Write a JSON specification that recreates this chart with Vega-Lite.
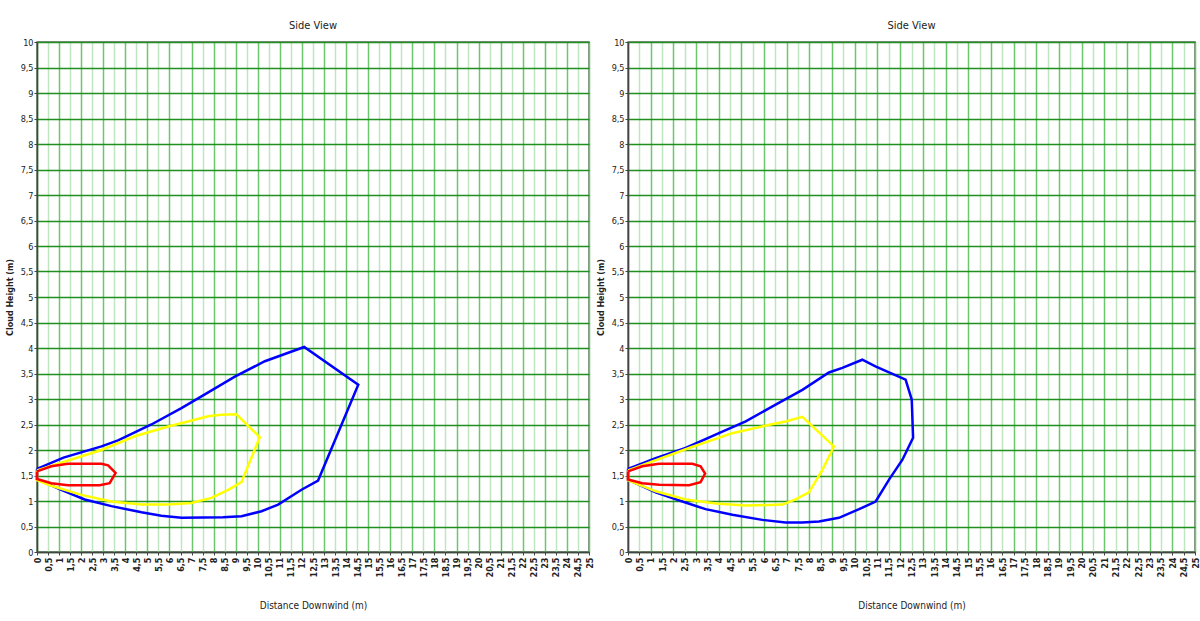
{
  "$schema": "https://vega.github.io/schema/vega-lite/v6.json",
  "padding": {"left": 5, "top": 19, "right": 0, "bottom": 0},
  "background": "white",
  "spacing": 1,
  "datasets": {
    "left": [
      {"series": "Outer", "i": 0, "x": 0, "h": 1.63},
      {"series": "Outer", "i": 1, "x": 1.2, "h": 1.85},
      {"series": "Outer", "i": 2, "x": 2.92, "h": 2.07},
      {"series": "Outer", "i": 3, "x": 3.67, "h": 2.19},
      {"series": "Outer", "i": 4, "x": 5.18, "h": 2.5},
      {"series": "Outer", "i": 5, "x": 6.54, "h": 2.82},
      {"series": "Outer", "i": 6, "x": 7.45, "h": 3.05},
      {"series": "Outer", "i": 7, "x": 8.96, "h": 3.44},
      {"series": "Outer", "i": 8, "x": 10.32, "h": 3.74},
      {"series": "Outer", "i": 9, "x": 12.1, "h": 4.02},
      {"series": "Outer", "i": 10, "x": 14.55, "h": 3.28},
      {"series": "Outer", "i": 11, "x": 12.73, "h": 1.4},
      {"series": "Outer", "i": 12, "x": 11.98, "h": 1.22},
      {"series": "Outer", "i": 13, "x": 10.92, "h": 0.93},
      {"series": "Outer", "i": 14, "x": 10.17, "h": 0.8},
      {"series": "Outer", "i": 15, "x": 9.26, "h": 0.7},
      {"series": "Outer", "i": 16, "x": 8.43, "h": 0.68},
      {"series": "Outer", "i": 17, "x": 6.54, "h": 0.67},
      {"series": "Outer", "i": 18, "x": 5.63, "h": 0.71},
      {"series": "Outer", "i": 19, "x": 4.73, "h": 0.78},
      {"series": "Outer", "i": 20, "x": 3.37, "h": 0.9},
      {"series": "Outer", "i": 21, "x": 2.16, "h": 1.03},
      {"series": "Outer", "i": 22, "x": 1.1, "h": 1.22},
      {"series": "Outer", "i": 23, "x": 0, "h": 1.43},
      {"series": "Outer", "i": 24, "x": 0, "h": 1.63},
      {"series": "Middle", "i": 0, "x": 0, "h": 1.6},
      {"series": "Middle", "i": 1, "x": 2.92, "h": 2.0},
      {"series": "Middle", "i": 2, "x": 4.43, "h": 2.27},
      {"series": "Middle", "i": 3, "x": 5.94, "h": 2.46},
      {"series": "Middle", "i": 4, "x": 6.84, "h": 2.56},
      {"series": "Middle", "i": 5, "x": 7.75, "h": 2.66},
      {"series": "Middle", "i": 6, "x": 8.35, "h": 2.69},
      {"series": "Middle", "i": 7, "x": 9.03, "h": 2.7},
      {"series": "Middle", "i": 8, "x": 10.09, "h": 2.25},
      {"series": "Middle", "i": 9, "x": 9.26, "h": 1.37},
      {"series": "Middle", "i": 10, "x": 8.66, "h": 1.22},
      {"series": "Middle", "i": 11, "x": 7.9, "h": 1.06},
      {"series": "Middle", "i": 12, "x": 6.99, "h": 0.96},
      {"series": "Middle", "i": 13, "x": 5.94, "h": 0.93},
      {"series": "Middle", "i": 14, "x": 4.73, "h": 0.93},
      {"series": "Middle", "i": 15, "x": 3.37, "h": 0.99},
      {"series": "Middle", "i": 16, "x": 2.01, "h": 1.12},
      {"series": "Middle", "i": 17, "x": 0.65, "h": 1.3},
      {"series": "Middle", "i": 18, "x": 0, "h": 1.41},
      {"series": "Middle", "i": 19, "x": 0, "h": 1.6},
      {"series": "Inner", "i": 0, "x": 0, "h": 1.58},
      {"series": "Inner", "i": 1, "x": 0.65, "h": 1.68},
      {"series": "Inner", "i": 2, "x": 1.4, "h": 1.73},
      {"series": "Inner", "i": 3, "x": 2.92, "h": 1.73},
      {"series": "Inner", "i": 4, "x": 3.22, "h": 1.7},
      {"series": "Inner", "i": 5, "x": 3.56, "h": 1.55},
      {"series": "Inner", "i": 6, "x": 3.29, "h": 1.35},
      {"series": "Inner", "i": 7, "x": 2.84, "h": 1.31},
      {"series": "Inner", "i": 8, "x": 1.4, "h": 1.31},
      {"series": "Inner", "i": 9, "x": 0.65, "h": 1.35},
      {"series": "Inner", "i": 10, "x": 0, "h": 1.43},
      {"series": "Inner", "i": 11, "x": 0, "h": 1.58}
    ],
    "right": [
      {"series": "Outer", "i": 0, "x": 0, "h": 1.63},
      {"series": "Outer", "i": 1, "x": 1.22, "h": 1.84},
      {"series": "Outer", "i": 2, "x": 2.54, "h": 2.04},
      {"series": "Outer", "i": 3, "x": 4.01, "h": 2.33},
      {"series": "Outer", "i": 4, "x": 5.19, "h": 2.56},
      {"series": "Outer", "i": 5, "x": 6.51, "h": 2.89},
      {"series": "Outer", "i": 6, "x": 7.69, "h": 3.18},
      {"series": "Outer", "i": 7, "x": 8.86, "h": 3.52},
      {"series": "Outer", "i": 8, "x": 9.45, "h": 3.61},
      {"series": "Outer", "i": 9, "x": 10.33, "h": 3.77},
      {"series": "Outer", "i": 10, "x": 10.91, "h": 3.64},
      {"series": "Outer", "i": 11, "x": 11.51, "h": 3.52},
      {"series": "Outer", "i": 12, "x": 12.24, "h": 3.38},
      {"series": "Outer", "i": 13, "x": 12.51, "h": 2.99},
      {"series": "Outer", "i": 14, "x": 12.57, "h": 2.24},
      {"series": "Outer", "i": 15, "x": 12.1, "h": 1.81},
      {"series": "Outer", "i": 16, "x": 11.51, "h": 1.42},
      {"series": "Outer", "i": 17, "x": 10.92, "h": 0.99},
      {"series": "Outer", "i": 18, "x": 10.19, "h": 0.84},
      {"series": "Outer", "i": 19, "x": 9.3, "h": 0.67},
      {"series": "Outer", "i": 20, "x": 8.42, "h": 0.6},
      {"series": "Outer", "i": 21, "x": 7.69, "h": 0.58},
      {"series": "Outer", "i": 22, "x": 6.95, "h": 0.58},
      {"series": "Outer", "i": 23, "x": 5.92, "h": 0.63},
      {"series": "Outer", "i": 24, "x": 4.6, "h": 0.73},
      {"series": "Outer", "i": 25, "x": 3.42, "h": 0.84},
      {"series": "Outer", "i": 26, "x": 2.4, "h": 0.99},
      {"series": "Outer", "i": 27, "x": 1.22, "h": 1.17},
      {"series": "Outer", "i": 28, "x": 0, "h": 1.42},
      {"series": "Outer", "i": 29, "x": 0, "h": 1.63},
      {"series": "Middle", "i": 0, "x": 0, "h": 1.6},
      {"series": "Middle", "i": 1, "x": 2.69, "h": 2.04},
      {"series": "Middle", "i": 2, "x": 4.6, "h": 2.33},
      {"series": "Middle", "i": 3, "x": 6.29, "h": 2.5},
      {"series": "Middle", "i": 4, "x": 6.95, "h": 2.56},
      {"series": "Middle", "i": 5, "x": 7.69, "h": 2.65},
      {"series": "Middle", "i": 6, "x": 9.08, "h": 2.07},
      {"series": "Middle", "i": 7, "x": 8.57, "h": 1.61},
      {"series": "Middle", "i": 8, "x": 7.98, "h": 1.17},
      {"series": "Middle", "i": 9, "x": 7.39, "h": 1.03},
      {"series": "Middle", "i": 10, "x": 6.8, "h": 0.93},
      {"series": "Middle", "i": 11, "x": 5.19, "h": 0.91},
      {"series": "Middle", "i": 12, "x": 3.87, "h": 0.95},
      {"series": "Middle", "i": 13, "x": 2.54, "h": 1.03},
      {"series": "Middle", "i": 14, "x": 1.22, "h": 1.19},
      {"series": "Middle", "i": 15, "x": 0, "h": 1.41},
      {"series": "Middle", "i": 16, "x": 0, "h": 1.6},
      {"series": "Inner", "i": 0, "x": 0, "h": 1.58},
      {"series": "Inner", "i": 1, "x": 0.63, "h": 1.68},
      {"series": "Inner", "i": 2, "x": 1.37, "h": 1.73},
      {"series": "Inner", "i": 3, "x": 2.84, "h": 1.73},
      {"series": "Inner", "i": 4, "x": 3.2, "h": 1.68},
      {"series": "Inner", "i": 5, "x": 3.4, "h": 1.54},
      {"series": "Inner", "i": 6, "x": 3.2, "h": 1.37},
      {"series": "Inner", "i": 7, "x": 2.69, "h": 1.31},
      {"series": "Inner", "i": 8, "x": 1.37, "h": 1.32},
      {"series": "Inner", "i": 9, "x": 0.63, "h": 1.35},
      {"series": "Inner", "i": 10, "x": 0, "h": 1.42},
      {"series": "Inner", "i": 11, "x": 0, "h": 1.58}
    ]
  },
  "config": {
    "font": "DejaVu Sans Condensed, Liberation Sans, sans-serif",
    "view": {"stroke": "#666", "strokeWidth": 1.5},
    "title": {"fontSize": 11, "fontWeight": "normal", "color": "#222", "offset": 7, "font": "DejaVu Sans Condensed, Liberation Sans, sans-serif"},
    "axis": {
      "labelFont": "DejaVu Sans Condensed, Liberation Sans, sans-serif",
      "labelFontSize": 9,
      "labelColor": "#222",
      "titleColor": "#222",
      "domainColor": "#444",
      "domainWidth": 1.5,
      "tickColor": "#444",
      "tickSize": 3,
      "labelExpr": "replace(format(datum.value, '.1~f'), '.', ',')"
    },
    "axisX": {
      "labelAngle": -90,
      "labelFontWeight": "bold",
      "labelFontSize": 9,
      "gridColor": {"condition": {"test": "datum.value % 1 === 0", "value": "#6cc66c"}, "value": "#bfe6bf"},
      "gridWidth": 1.5,
      "gridOpacity": 1,
      "titleFont": "DejaVu Sans Condensed, Liberation Sans, sans-serif",
      "titleFontSize": 10,
      "titleFontWeight": "normal",
      "titlePadding": 24
    },
    "axisY": {
      "gridColor": "#1f8f1f",
      "gridWidth": 1.5,
      "gridOpacity": 1,
      "titleFont": "DejaVu Sans, sans-serif",
      "titleFontSize": 8,
      "titleFontWeight": "bold",
      "titlePadding": 6,
      "labelPadding": 1
    },
    "line": {"strokeWidth": 2.5}
  },
  "hconcat": [
    {
      "title": "Side View",
      "width": 552,
      "height": 510,
      "data": {"name": "left"},
      "mark": {"type": "line", "strokeWidth": 2.5},
      "encoding": {
        "x": {"field": "x", "type": "quantitative", "title": "Distance Downwind (m)", "scale": {"domain": [0, 25], "nice": false},
          "axis": {"values": [0,0.5,1,1.5,2,2.5,3,3.5,4,4.5,5,5.5,6,6.5,7,7.5,8,8.5,9,9.5,10,10.5,11,11.5,12,12.5,13,13.5,14,14.5,15,15.5,16,16.5,17,17.5,18,18.5,19,19.5,20,20.5,21,21.5,22,22.5,23,23.5,24,24.5,25]}},
        "y": {"field": "h", "type": "quantitative", "title": "Cloud Height (m)", "scale": {"domain": [0, 10], "nice": false},
          "axis": {"values": [0,0.5,1,1.5,2,2.5,3,3.5,4,4.5,5,5.5,6,6.5,7,7.5,8,8.5,9,9.5,10]}},
        "color": {"field": "series", "type": "nominal", "legend": null, "scale": {"domain": ["Outer", "Middle", "Inner"], "range": ["#0000ff", "#ffff00", "#ff0000"]}},
        "order": {"field": "i", "type": "quantitative"}
      }
    },
    {
      "title": "Side View",
      "width": 567,
      "height": 510,
      "data": {"name": "right"},
      "mark": {"type": "line", "strokeWidth": 2.5},
      "encoding": {
        "x": {"field": "x", "type": "quantitative", "title": "Distance Downwind (m)", "scale": {"domain": [0, 25], "nice": false},
          "axis": {"values": [0,0.5,1,1.5,2,2.5,3,3.5,4,4.5,5,5.5,6,6.5,7,7.5,8,8.5,9,9.5,10,10.5,11,11.5,12,12.5,13,13.5,14,14.5,15,15.5,16,16.5,17,17.5,18,18.5,19,19.5,20,20.5,21,21.5,22,22.5,23,23.5,24,24.5,25]}},
        "y": {"field": "h", "type": "quantitative", "title": "Cloud Height (m)", "scale": {"domain": [0, 10], "nice": false},
          "axis": {"values": [0,0.5,1,1.5,2,2.5,3,3.5,4,4.5,5,5.5,6,6.5,7,7.5,8,8.5,9,9.5,10]}},
        "color": {"field": "series", "type": "nominal", "legend": null, "scale": {"domain": ["Outer", "Middle", "Inner"], "range": ["#0000ff", "#ffff00", "#ff0000"]}},
        "order": {"field": "i", "type": "quantitative"}
      }
    }
  ]
}
